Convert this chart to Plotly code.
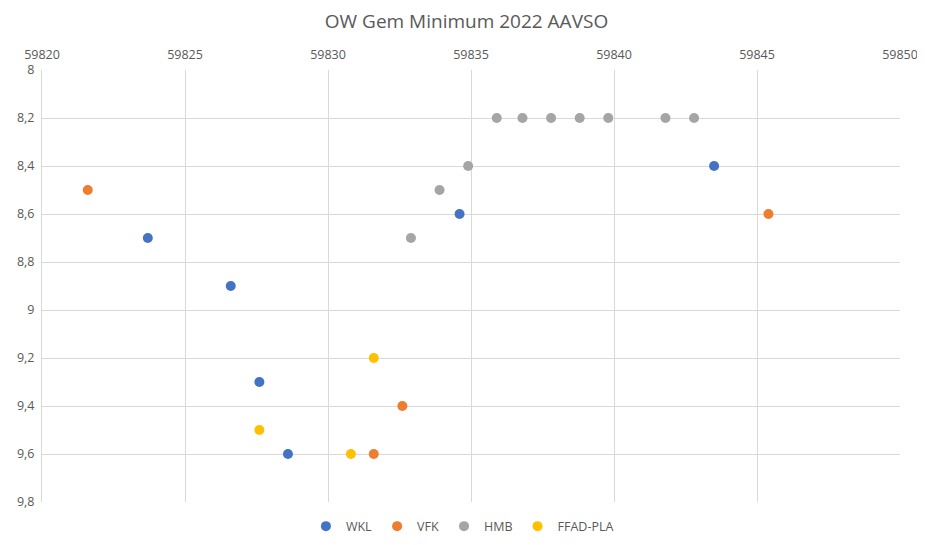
import plotly.graph_objects as go

title = "OW Gem Minimum 2022 AAVSO"

wkl_x = [59823.7, 59826.6, 59827.6, 59828.6, 59834.6, 59843.5]
wkl_y = [8.7, 8.9, 9.3, 9.6, 8.6, 8.4]

vfk_x = [59821.6, 59832.6, 59831.6, 59845.4]
vfk_y = [8.5, 9.4, 9.6, 8.6]

hmb_x = [59832.9, 59833.9, 59834.9, 59835.9, 59836.8, 59837.8, 59838.8, 59839.8, 59841.8, 59842.8]
hmb_y = [8.7, 8.5, 8.4, 8.2, 8.2, 8.2, 8.2, 8.2, 8.2, 8.2]

ffad_x = [59827.6, 59830.8, 59831.6]
ffad_y = [9.5, 9.6, 9.2]

series = [
    ("WKL", wkl_x, wkl_y, "#4472C4"),
    ("VFK", vfk_x, vfk_y, "#ED7D31"),
    ("HMB", hmb_x, hmb_y, "#A5A5A5"),
    ("FFAD-PLA", ffad_x, ffad_y, "#FFC000"),
]

fig = go.Figure()
for name, xs, ys, col in series:
    fig.add_trace(go.Scatter(x=xs, y=ys, mode="markers", name=name,
                             marker=dict(color=col, size=10, line=dict(width=0))))

font_family = "Open Sans, Noto Sans, DejaVu Sans, sans-serif"
# page body has an 8px margin: figure sized/positioned to compensate
fig.update_layout(
    width=917, height=529,
    paper_bgcolor="white", plot_bgcolor="white",
    separators=",.",
    margin=dict(l=34, r=25, t=62, b=35, autoexpand=False),
    font=dict(family=font_family, size=12.5, color="#595959"),
    title=dict(text=title, x=0.5, xanchor="center", y=0.975, yanchor="middle",
               font=dict(size=19, color="#595959")),
    xaxis=dict(side="top", range=[59820, 59850], dtick=5, tick0=59820,
               tickformat="d", showgrid=True, gridcolor="#D9D9D9", gridwidth=1,
               zeroline=False, showline=False, ticks="", ticklabelstandoff=8,
               automargin=False, ticklabeloverflow="allow",
               tickfont=dict(size=12.5, color="#595959")),
    yaxis=dict(range=[9.8, 8], dtick=0.2, tick0=8, showgrid=True,
               gridcolor="#D9D9D9", gridwidth=1, zeroline=False,
               showline=True, linecolor="#D9D9D9", linewidth=1, ticks="",
               ticklabelstandoff=4, automargin=False, ticklabeloverflow="allow",
               tickfont=dict(size=12.5, color="#595959")),
    legend=dict(orientation="h", x=0.49, xanchor="center", y=-0.022, yanchor="top",
                font=dict(size=12.5, color="#595959"), itemwidth=30,
                tracegroupgap=0),
    showlegend=True,
)

fig.write_html("out.html")
